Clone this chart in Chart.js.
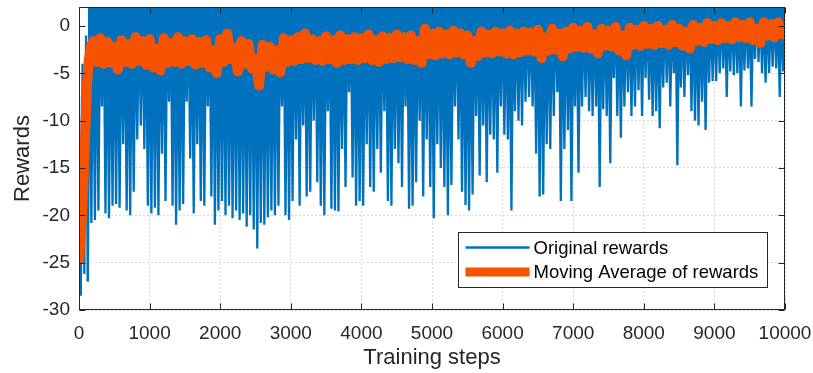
<!DOCTYPE html>
<html>
<head>
<meta charset="utf-8">
<script src="https://cdn.jsdelivr.net/npm/chart.js@4.4.0/dist/chart.umd.min.js"></script>
<style>
  html, body { margin: 0; padding: 0; background: #fff; }
  #wrap { width: 813px; height: 373px; }
</style>
</head>
<body>
<div id="wrap"><canvas id="rewardChart" width="813" height="373"></canvas></div>
<script>
(function () {
    "use strict";

    // raw rewards: peaks sampled every 50 steps (0..10000), dips half way between (25..9975)
    var rawStep = 25;
    var rewardPeaks = [
        -7.5, -4.0, -1.0, 1.9, 2.0, 1.9, 2.0, 2.0, 2.0, 1.8,
        2.0, 2.0, 1.9, 2.0, 2.0, 2.0, 1.7, 2.0, 2.0, 1.9,
        2.0, 2.0, 2.0, 1.9, 2.0, 2.0, 2.0, 1.8, 2.0, 2.0,
        1.9, 2.0, 2.0, 2.0, 1.8, 2.0, 2.0, 1.6, 2.0, 2.0,
        2.0, 1.9, 2.0, 2.0, 2.0, 2.0, 1.8, 2.0, 2.0, 2.0,
        1.9, 2.0, 2.0, 2.0, 2.0, 1.7, 2.0, 2.0, 2.0, 1.9,
        2.0, 2.0, 2.0, 1.8, 2.0, 2.0, 1.9, 2.0, 2.0, 2.0,
        1.8, 2.0, 2.0, 2.0, 1.9, 2.0, 2.0, 1.7, 2.0, 2.0,
        2.0, 1.9, 2.0, 2.0, 2.0, 1.6, 2.0, 2.0, 1.9, 2.0,
        2.0, 2.0, 1.8, 2.0, 2.0, 2.0, 1.9, 2.0, 2.0, 1.7,
        2.0, 2.0, 2.0, 1.9, 2.0, 2.0, 1.8, 2.0, 2.0, 2.0,
        1.9, 2.0, 2.0, 2.0, 1.7, 2.0, 2.0, 1.9, 2.0, 2.0,
        2.0, 1.8, 2.0, 2.0, 2.0, 1.9, 2.0, 2.0, 1.6, 2.0,
        2.0, 2.0, 1.9, 2.0, 2.0, 2.0, 1.8, 2.0, 2.0, 1.9,
        2.0, 2.0, 2.0, 1.7, 2.0, 2.0, 2.0, 1.9, 2.0, 2.0,
        1.8, 2.0, 2.0, 2.0, 1.9, 2.0, 2.0, 1.7, 2.0, 2.0,
        2.0, 1.9, 2.0, 2.0, 2.0, 1.8, 2.0, 2.0, 1.9, 2.0,
        2.0, 2.0, 1.7, 2.0, 2.0, 2.0, 1.9, 2.0, 2.0, 1.8,
        2.0, 2.0, 2.0, 1.9, 2.0, 2.0, 1.7, 2.0, 2.0, 2.0,
        1.9, 2.0, 2.0, 2.0, 1.8, 2.0, 2.0, 1.9, 2.0, 2.0,
        2.0
    ];
    var rewardDips = [
        -28.5, -26.2, -27.0, -20.8, -20.5, -19.5, -8.5, -19.8, -20.3, -19.0,
        -18.8, -19.2, -12.5, -19.5, -20.0, -17.5, -12.0, -10.5, -13.0, -19.0,
        -19.8, -19.2, -20.0, -13.5, -18.5, -8.0, -19.0, -21.0, -19.5, -18.8,
        -8.0, -14.0, -19.8, -12.5, -18.5, -19.0, -8.5, -18.0, -21.0, -19.5,
        -18.5, -20.0, -19.0, -20.3, -19.5, -20.5, -19.8, -21.2, -20.0, -21.5,
        -23.5, -20.8, -21.0, -20.2, -19.5, -20.0, -19.0, -8.5, -20.0, -20.5,
        -18.5, -12.0, -19.0, -10.5, -18.0, -17.5, -10.0, -16.5, -19.0, -20.0,
        -9.0, -19.3, -19.5, -19.6, -13.0, -17.0, -7.0, -16.0, -19.0, -18.5,
        -19.0, -12.5, -17.0, -17.5, -13.0, -15.5, -9.0, -18.5, -19.0, -13.0,
        -14.5, -17.0, -8.5, -19.3, -19.0, -16.5, -10.0, -18.0, -12.0, -17.0,
        -20.3, -12.5, -15.0, -17.0, -20.0, -16.8, -8.5, -12.0, -17.5, -18.9,
        -19.5, -17.8, -9.5, -15.8, -10.5, -16.5, -11.5, -12.0, -15.5, -8.5,
        -11.5, -12.0, -19.5, -9.0, -10.0, -10.5, -8.0, -7.5, -8.5, -13.5,
        -18.0, -17.8, -12.5, -13.0, -9.5, -7.0, -18.5, -13.0, -11.0, -18.5,
        -8.5, -15.5, -8.5, -7.5, -9.0, -9.5, -8.5, -17.0, -8.8, -9.5,
        -14.5, -5.5, -9.5, -11.8, -8.5, -7.0, -9.5, -8.5, -6.8, -9.5,
        -5.5, -7.8, -9.5, -9.0, -10.8, -6.5, -6.0, -8.5, -5.0, -14.7,
        -6.5, -7.5, -5.2, -9.0, -10.0, -10.5, -8.0, -11.0, -6.0, -5.8,
        -5.8, -5.0, -4.5, -7.5, -4.8, -5.2, -5.0, -8.5, -4.7, -4.5,
        -8.5, -3.5, -3.8, -5.0, -6.0, -5.0, -4.3, -4.5, -7.5, -4.8
    ];

    // moving average: first steps read by hand, then every 50 steps from 200 to 10000
    var avgStartSteps = [0, 30, 60, 90, 115, 140, 170];
    var avgStartValues = [-25.0, -21.5, -17.0, -11.0, -6.0, -3.5, -2.2];
    var avgEvery = 50;
    var avgValues = [
        -1.6, -3.8, -1.3, -4.0, -1.7, -3.9, -2.2, -4.6, -1.5, -3.8,
        -1.9, -4.0, -1.2, -3.7, -1.6, -4.1, -1.4, -4.4, -2.4, -4.7,
        -1.3, -3.9, -1.8, -3.8, -1.2, -4.0, -1.6, -3.7, -1.4, -4.1,
        -1.7, -3.9, -1.5, -4.4, -2.6, -5.0, -1.4, -3.8, -0.8, -3.5,
        -2.3, -4.8, -1.6, -4.0, -1.9, -4.5, -3.5, -6.3, -2.0, -4.3,
        -2.2, -4.6, -2.6, -4.9, -1.3, -3.8, -1.5, -3.7, -1.2, -3.5,
        -0.8, -3.4, -1.4, -3.6, -1.6, -3.7, -1.1, -3.5, -1.5, -3.9,
        -1.0, -3.6, -1.4, -3.5, -1.2, -3.6, -1.3, -3.4, -0.9, -3.6,
        -1.5, -3.8, -1.1, -3.5, -1.3, -3.4, -0.9, -3.3, -1.2, -3.5,
        -1.0, -3.6, -1.6, -3.9, -0.3, -3.0, -0.8, -3.1, -0.6, -2.9,
        -0.9, -3.0, -0.5, -2.8, -0.8, -3.0, -1.0, -3.9, -1.6, -3.2,
        -0.6, -2.8, -0.9, -2.9, -0.6, -2.7, -0.8, -2.9, -0.5, -3.0,
        -0.8, -2.8, -0.6, -2.6, -0.7, -2.7, -0.4, -3.4, -1.2, -2.6,
        -0.3, -2.5, -0.8, -3.2, -0.6, -2.4, -0.2, -2.2, -0.5, -2.3,
        -0.1, -2.4, -0.9, -2.9, -0.3, -2.1, -0.5, -2.2, -0.1, -2.6,
        -1.0, -3.1, -0.2, -2.0, -0.4, -2.1, 0.0, -1.9, -0.3, -2.0,
        0.0, -1.8, -0.4, -2.0, 0.1, -1.7, -0.3, -2.1, -0.6, -2.4,
        0.1, -1.6, -0.2, -1.7, 0.3, -1.4, 0.0, -1.5, 0.3, -1.3,
        0.0, -1.4, 0.4, -1.2, 0.1, -1.3, 0.4, -1.5, -0.3, -1.8,
        0.4, -1.0, 0.2, -1.2, 0.4, -0.9, -0.2
    ];

    var xTickValues = [0, 1000, 2000, 3000, 4000, 5000, 6000, 7000, 8000, 9000, 10000];
    var yTickValues = [-30, -25, -20, -15, -10, -5, 0];

    var rawPoints = [];
    for (var i = 0; i < rewardDips.length; i++) {
        rawPoints.push({ x: 2 * i * rawStep, y: rewardPeaks[i] });
        rawPoints.push({ x: (2 * i + 1) * rawStep, y: rewardDips[i] });
    }
    rawPoints.push({ x: 2 * rewardDips.length * rawStep, y: rewardPeaks[rewardDips.length] });

    var avgPoints = [];
    for (var j = 0; j < avgStartSteps.length; j++) {
        avgPoints.push({ x: avgStartSteps[j], y: avgStartValues[j] });
    }
    for (var k = 0; k < avgValues.length; k++) {
        avgPoints.push({ x: 200 + k * avgEvery, y: avgValues[k] });
    }

    var font = "'Liberation Sans', Arial, Helvetica, sans-serif";
    var axisColor = "#262626";
    var rawColor = "#0072BD";

    // matlab style box with inward ticks
    var boxPlugin = {
        id: "box",
        afterDatasetsDraw: function (chart) {
            var ctx = chart.ctx, a = chart.chartArea;
            var xs = chart.scales.x, ys = chart.scales.y;
            var l = Math.round(a.left) + 0.5, r = Math.round(a.right) - 0.5;
            var t = Math.round(a.top) + 0.5, b = Math.round(a.bottom) - 0.5;
            ctx.save();
            ctx.strokeStyle = axisColor;
            ctx.lineWidth = 1;
            ctx.beginPath();
            xTickValues.forEach(function (v) {
                var px = Math.round(xs.getPixelForValue(v)) + 0.5;
                ctx.moveTo(px, b); ctx.lineTo(px, b - 6);
                ctx.moveTo(px, t); ctx.lineTo(px, t + 6);
            });
            yTickValues.forEach(function (v) {
                var py = Math.round(ys.getPixelForValue(v)) + 0.5;
                ctx.moveTo(l, py); ctx.lineTo(l + 6, py);
                ctx.moveTo(r, py); ctx.lineTo(r - 6, py);
            });
            ctx.stroke();
            ctx.strokeRect(l, t, r - l, b - t);
            ctx.restore();
        }
    };

    // legend box inside the plot, bottom right
    var legendPlugin = {
        id: "boxLegend",
        afterDraw: function (chart) {
            var ctx = chart.ctx, a = chart.chartArea;
            var w = 309, h = 55;
            var x0 = Math.round(a.right - 18 - w) + 0.5;
            var y0 = Math.round(a.bottom - 23 - h) + 0.5;
            ctx.save();
            ctx.fillStyle = "#fff";
            ctx.fillRect(x0, y0, w, h);
            ctx.strokeStyle = axisColor;
            ctx.lineWidth = 1;
            ctx.strokeRect(x0, y0, w, h);
            var rows = [y0 + 15, y0 + 39.5];
            chart.data.datasets.forEach(function (ds, n) {
                ctx.beginPath();
                ctx.strokeStyle = ds.borderColor;
                ctx.lineWidth = n === 0 ? 2.5 : 9;
                ctx.lineCap = "butt";
                ctx.moveTo(x0 + 7, rows[n]);
                ctx.lineTo(x0 + 71, rows[n]);
                ctx.stroke();
                ctx.fillStyle = "#000";
                ctx.font = "18.5px " + font;
                ctx.textBaseline = "middle";
                ctx.textAlign = "left";
                ctx.fillText(ds.label, x0 + 75, rows[n] + 1);
            });
            ctx.restore();
        }
    };

    function noEdgePadding(s) {
        s.paddingTop = 0;
        s.paddingBottom = 0;
        s.paddingLeft = 0;
        s.paddingRight = 0;
    }

    var ctx = document.getElementById("rewardChart");
    var myChart = new Chart(ctx, {
        type: "line",
        data: {
            datasets: [{
                label: "Original rewards",
                data: rawPoints,
                borderColor: rawColor,
                backgroundColor: rawColor,
                // dense trace: paint everything above the zigzag like the packed lines do
                fill: "end",
                segment: {
                    // no paint above the very first rising steps
                    backgroundColor: function (c) {
                        return c.p1.parsed.x <= 125 ? "rgba(0,0,0,0)" : undefined;
                    }
                },
                borderWidth: 2.3,
                pointRadius: 0,
                tension: 0,
                order: 1
            }, {
                label: "Moving Average of rewards",
                data: avgPoints,
                borderColor: "#F65200",
                borderWidth: 10,
                borderJoinStyle: "round",
                borderCapStyle: "butt",
                pointRadius: 0,
                tension: 0,
                order: 0
            }]
        },
        options: {
            responsive: false,
            animation: false,
            devicePixelRatio: 1,
            layout: { padding: { left: 0, right: 28, top: 7, bottom: 0 } },
            plugins: {
                legend: { display: false },
                tooltip: { enabled: false }
            },
            scales: {
                x: {
                    type: "linear",
                    min: 0,
                    max: 10000,
                    afterBuildTicks: function (s) {
                        s.ticks = xTickValues.map(function (v) { return { value: v }; });
                    },
                    afterFit: function (s) { s.height = 63; noEdgePadding(s); },
                    grid: { color: "rgba(0,0,0,0.14)", drawTicks: false },
                    border: { display: false, dash: [2, 2] },
                    ticks: {
                        padding: 12,
                        color: axisColor,
                        maxRotation: 0,
                        autoSkip: false,
                        font: { size: 19, family: font },
                        callback: function (v) { return String(v); }
                    },
                    title: {
                        display: true,
                        text: "Training steps",
                        color: axisColor,
                        font: { size: 22, family: font },
                        padding: { top: 0, bottom: 2 }
                    }
                },
                y: {
                    min: -30,
                    max: 2,
                    afterBuildTicks: function (s) {
                        s.ticks = yTickValues.map(function (v) { return { value: v }; });
                    },
                    afterFit: function (s) { s.width = 79; noEdgePadding(s); },
                    grid: { color: "rgba(0,0,0,0.14)", drawTicks: false },
                    border: { display: false, dash: [2, 2] },
                    ticks: {
                        padding: 9,
                        color: axisColor,
                        font: { size: 19, family: font },
                        callback: function (v) { return String(v); }
                    },
                    title: {
                        display: true,
                        text: "Rewards",
                        color: axisColor,
                        font: { size: 22, family: font },
                        padding: { top: 10, bottom: 0 }
                    }
                }
            }
        },
        plugins: [boxPlugin, legendPlugin]
    });
})();
</script>
</body>
</html>
